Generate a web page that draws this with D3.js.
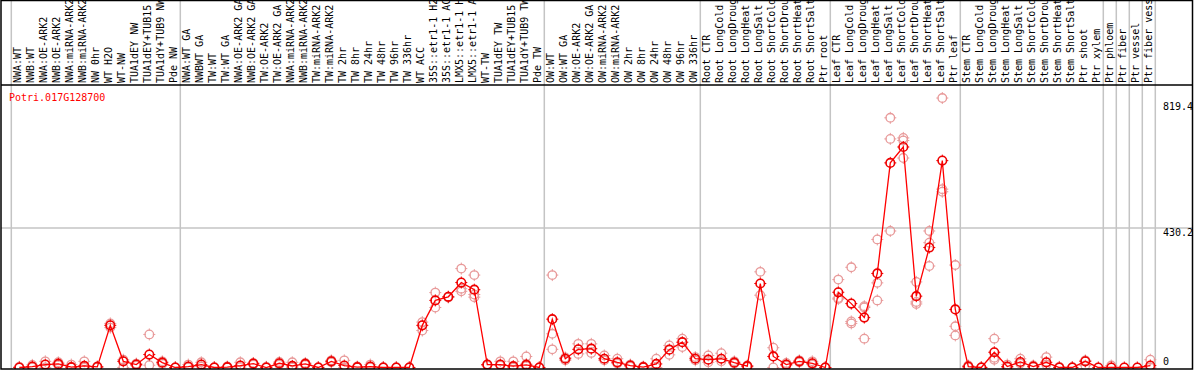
<!DOCTYPE html>
<html>
<head>
<meta charset="utf-8">
<script src="https://cdn.jsdelivr.net/npm/d3@7"></script>
<style>
  body { margin: 0; background: #fff; }
  svg { display: block; }
  text { font-family: "DejaVu Sans Mono", monospace; font-size: 10px; }
</style>
</head>
<body>
<div id="chart"></div>
<script>
// 样本名称
var samples = [
  'NWA:WT', 'NWB:WT', 'NWA:OE-ARK2', 'NWB:OE-ARK2', 'NWA:miRNA-ARK2', 'NWB:miRNA-ARK2',
  'NW 0hr', 'WT H2O', 'WT-NW', 'TUA1dEY NW', 'TUA1dEY+TUB15 NW', 'TUA1dY+TUB9 NW', 'Pde NW',
  'NWA:WT GA', 'NWBWT GA', 'TW:WT', 'TW:WT GA', 'NWA:OE-ARK2 GA', 'NWB:OE-ARK2 GA',
  'TW:OE-ARK2', 'TW:OE-ARK2 GA', 'NWA:miRNA-ARK2', 'NWB:miRNA-ARK2', 'TW:miRNA-ARK2',
  'TW:miRNA-ARK2', 'TW 2hr', 'TW 8hr', 'TW 24hr', 'TW 48hr', 'TW 96hr', 'TW 336hr', 'WT ACC',
  '35S::etr1-1 H2O', '35S::etr1-1 ACC', 'LMX5::etr1-1 H2O', 'LMX5::etr1-1 ACC', 'WT-TW',
  'TUA1dEY TW', 'TUA1dEY+TUB15 TW', 'TUA1dY+TUB9 TW', 'Pde TW',
  'OW:WT', 'OW:WT GA', 'OW:OE-ARK2', 'OW:OE-ARK2 GA', 'OW:miRNA-ARK2', 'OW:miRNA-ARK2',
  'OW 2hr', 'OW 8hr', 'OW 24hr', 'OW 48hr', 'OW 96hr', 'OW 336hr',
  'Root CTR', 'Root LongCold', 'Root LongDrought', 'Root LongHeat', 'Root LongSalt',
  'Root ShortCold', 'Root ShortDrought', 'Root ShortHeat', 'Root ShortSalt', 'Ptr root',
  'Leaf CTR', 'Leaf LongCold', 'Leaf LongDrought', 'Leaf LongHeat', 'Leaf LongSalt',
  'Leaf ShortCold', 'Leaf ShortDrought', 'Leaf ShortHeat', 'Leaf ShortSalt', 'Ptr leaf',
  'Stem CTR', 'Stem LongCold', 'Stem LongDrought', 'Stem LongHeat', 'Stem LongSalt',
  'Stem ShortCold', 'Stem ShortDrought', 'Stem ShortHeat', 'Stem ShortSalt', 'Ptr shoot',
  'Ptr xylem', 'Ptr phloem', 'Ptr fiber', 'Ptr vessel', 'Ptr fiber vessel'
]

// 平均值
var means = [
  0, 3, 9, 11, 1, 5, 2, 130, 19, 9, 40, 15, 0,
  3, 9, 0, 1, 6, 12, 0, 13, 5, 11, 0, 19, 6, 1, 3, 0, 0, 0, 130,
  207, 218, 262, 240, 9, 9, 4, 8, 0,
  149, 27, 56, 58, 27, 16, 6, 1, 11, 55, 78, 27,
  24, 27, 15, 4, 259, 34, 9, 19, 13, 0,
  232, 197, 154, 290, 631, 680, 220, 370, 638, 179,
  3, 0, 47, 3, 17, 3, 16, 0, 0, 19,
  0, 0, 0, 0, 6
]

// 重复样本
var replicates = [
  [0, 0, 2], [3, 8, 0], [9, 19, 0], [11, 16, 7], [1, 9, 0], [5, 19, 0], [2, 0, 3],
  [130, 123, 136], [19, 24, 0], [9, 6, 12], [40, 102, 7], [15, 19, 11], [0, 0, 0],
  [3, 9, 0], [9, 16, 3], [0, 0, 1], [1, 3, 0], [6, 16, 1], [12, 14, 9], [0, 2, 0],
  [13, 17, 9], [5, 16, 0], [11, 14, 8], [0, 0, 1], [19, 22, 16], [6, 22, 0], [1, 3, 0],
  [3, 9, 0], [0, 1, 0], [0, 0, 0], [0, 0, 0], [130, 140, 114],
  [207, 231, 185], [218, 218, 216], [262, 305, 235, 243], [240, 285, 217, 225],
  [9, 9, 6], [9, 19, 6], [4, 19, 0], [8, 34, 11, 4], [0, 0, 0],
  [149, 285, 104, 56], [27, 22, 31], [56, 73, 42], [58, 73, 45], [27, 37, 22],
  [16, 27, 12], [6, 9, 3], [1, 0, 3], [11, 27, 0], [55, 68, 39], [78, 89, 63], [27, 32, 22],
  [24, 37, 16], [27, 44, 19], [15, 12, 19], [4, 2, 6], [259, 295, 223], [34, 61, 0],
  [9, 14, 6], [19, 22, 16], [13, 19, 9], [0, 0, 0],
  [232, 271, 211, 214], [197, 309, 142, 136], [154, 189, 185, 89], [290, 395, 261, 207],
  [631, 770, 705, 421], [680, 708, 700, 646], [220, 264, 202, 196], [370, 421, 385, 313],
  [638, 831, 542, 550], [179, 316, 127, 99],
  [3, 6, 0], [0, 0, 1], [47, 89, 24, 30], [3, 9, 0], [17, 27, 12], [3, 1, 6],
  [16, 32, 9], [0, 0, 2], [0, 0, 1], [19, 6, 22],
  [0], [0, 6], [0], [0], [6, 24, 0]
]

// 分组起点（灰色竖线）
var groupStarts = [0, 13, 41, 53, 63, 73, 84, 85, 86, 87, 88]

// 纵轴刻度
var yTicks = [0, 430.2, 819.4]
var yGrid = [430.2]
var yMax = 860.4
var geneName = 'Potri.017G128700'

var W = 1194, H = 370
var plotTop = 85, plotBottom = 369

var svg = d3.select('#chart')
  .append('svg')
  .attr('width', W)
  .attr('height', H)

var x = d3.scaleLinear()
  .domain([0, samples.length - 1])
  .range([19.3, 19.3 + 13 * (samples.length - 1)])
var y = d3.scaleLinear()
  .domain([0, yMax])
  .range([367.5, 88.5])

// 网格线
svg.append('g')
  .selectAll('line')
  .data(groupStarts)
  .enter()
  .append('line')
  .attr('x1', function(d) { return x(d) - 8 })
  .attr('x2', function(d) { return x(d) - 8 })
  .attr('y1', 0)
  .attr('y2', plotBottom)
  .attr('stroke', '#c4c4c4')
  .attr('stroke-width', 1.5)

svg.append('g')
  .selectAll('line')
  .data(yGrid)
  .enter()
  .append('line')
  .attr('x1', 1)
  .attr('x2', W - 1)
  .attr('y1', function(d) { return y(d) })
  .attr('y2', function(d) { return y(d) })
  .attr('stroke', '#c4c4c4')
  .attr('stroke-width', 1.5)

// 样本标签
svg.append('g')
  .selectAll('text')
  .data(samples)
  .enter()
  .append('text')
  .attr('transform', function(d, i) { return 'translate(' + (x(i) + 2) + ',83) rotate(-90)' })
  .attr('fill', '#000')
  .text(function(d) { return d })

// 纵轴标签
svg.append('g')
  .selectAll('text')
  .data(yTicks)
  .enter()
  .append('text')
  .attr('x', 1163)
  .attr('y', function(d) { return Math.min(y(d) + 8, 365) })
  .attr('fill', '#000')
  .text(function(d) { return d })

svg.append('text')
  .attr('x', 9)
  .attr('y', 101)
  .attr('fill', '#ff0000')
  .text(geneName)

var clip = svg.append('clipPath').attr('id', 'plot-clip')
clip.append('rect')
  .attr('x', 1).attr('y', plotTop).attr('width', W - 2).attr('height', plotBottom - plotTop)

var plot = svg.append('g').attr('clip-path', 'url(#plot-clip)')

// 带小刻度的圆圈
function marker(g, cx, cy, color, w) {
  g.append('circle')
    .attr('cx', cx).attr('cy', cy).attr('r', 4.3)
    .attr('fill', 'none').attr('stroke', color).attr('stroke-width', w)
  g.append('path')
    .attr('d', 'M' + cx + ',' + (cy - 6) + 'v2.5M' + cx + ',' + (cy + 3.5) + 'v2.5' +
      'M' + (cx - 6) + ',' + cy + 'h2.5M' + (cx + 3.5) + ',' + cy + 'h2.5')
    .attr('stroke', color).attr('stroke-width', 1)
}

// 重复样本点
var repG = plot.append('g')
replicates.forEach(function(reps, i) {
  reps.slice(1).forEach(function(v) {
    marker(repG, x(i), y(v), '#e89a9a', 1.3)
  })
})

// 折线
var line = d3.line()
  .x(function(d, i) { return x(i) })
  .y(function(d) { return y(d) })
plot.append('path')
  .datum(means)
  .attr('fill', 'none')
  .attr('stroke', '#ff0000')
  .attr('stroke-width', 1.3)
  .attr('d', line)

var meanG = plot.append('g')
means.forEach(function(v, i) {
  marker(meanG, x(i), y(v), '#ee0000', 1.6)
})

// 边框
svg.append('rect')
  .attr('x', 1).attr('y', 0.5).attr('width', W - 2.5).attr('height', plotBottom - 0.5)
  .attr('fill', 'none').attr('stroke', '#000').attr('stroke-width', 1.5)
svg.append('line')
  .attr('x1', 1).attr('x2', W - 1).attr('y1', plotTop).attr('y2', plotTop)
  .attr('stroke', '#000').attr('stroke-width', 1.5)
</script>
</body>
</html>
